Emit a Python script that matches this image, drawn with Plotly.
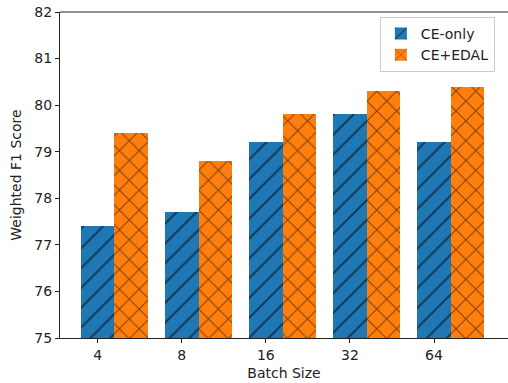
import plotly.graph_objects as go

batch_sizes = ["4", "8", "16", "32", "64"]
ce_only = [77.4, 77.7, 79.2, 79.8, 79.2]
ce_edal = [79.4, 78.8, 79.8, 80.3, 80.4]

idx = list(range(len(batch_sizes)))
width = 0.4

fig = go.Figure()
fig.add_trace(go.Bar(
    x=idx, y=ce_only, width=width, name="CE-only",
    marker=dict(color="#1f77b4", line=dict(width=0),
                pattern=dict(shape="/", fgcolor="black", bgcolor="#1f77b4",
                             size=14, solidity=0.14, fillmode="overlay")),
))
fig.add_trace(go.Bar(
    x=[i + width for i in idx], y=ce_edal, width=width, name="CE+EDAL",
    marker=dict(color="#ff7f0e", line=dict(width=0),
                pattern=dict(shape="x", fgcolor="black", bgcolor="#ff7f0e",
                             size=14, solidity=0.14, fillmode="overlay")),
))

font = dict(family="DejaVu Sans", size=14, color="#222")
fig.update_layout(
    width=508, height=383,
    margin=dict(l=60, r=0, t=12, b=45),
    plot_bgcolor="white", paper_bgcolor="white",
    font=font,
    barmode="overlay",
    bargap=0,
    showlegend=True,
    legend=dict(x=0.714, y=0.985, xanchor="left", yanchor="top",
                bgcolor="rgba(255,255,255,0.8)", bordercolor="#cccccc",
                borderwidth=1, font=dict(family="DejaVu Sans", size=14, color="#222"),
                tracegroupgap=0),
    xaxis=dict(
        range=[-0.448, 4.88], tickmode="array", tickvals=idx, ticktext=batch_sizes,
        showgrid=False, zeroline=False, showline=True, linecolor="#222", linewidth=1,
        mirror=False, ticks="outside", ticklen=4, tickcolor="#222", automargin=False,
        title=dict(text="Batch Size", standoff=6, font=font),
    ),
    yaxis=dict(
        range=[75, 82], dtick=1, showgrid=False, zeroline=False,
        showline=True, linecolor="#222", linewidth=1, automargin=False,
        ticks="outside", ticklen=4, tickcolor="#222", ticklabeloverflow="allow",
        title=dict(text="Weighted F1 Score", standoff=9, font=font),
    ),
)
# top spine
fig.add_shape(type="line", xref="paper", yref="paper", x0=0, x1=1, y0=1, y1=1,
              line=dict(color="#222", width=1))

fig.write_html("out.html", config={"displayModeBar": False},
               post_script="document.body.style.margin='0';document.body.style.overflow='hidden';")
